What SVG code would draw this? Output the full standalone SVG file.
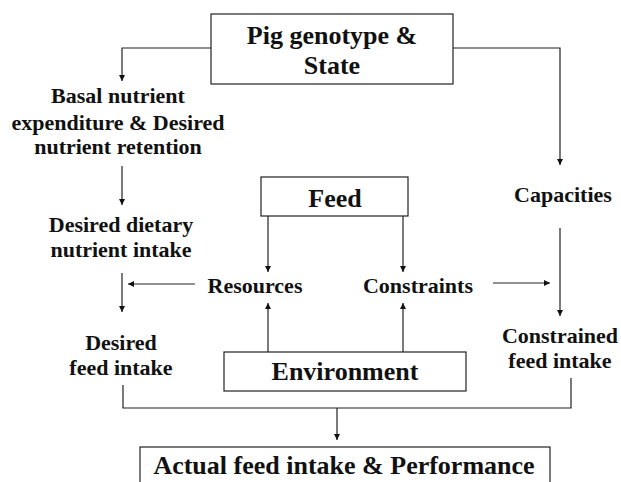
<svg xmlns="http://www.w3.org/2000/svg" width="621" height="482" viewBox="0 0 621 482">
<style>
text{font-family:'Liberation Serif','DejaVu Serif',serif;font-weight:bold;fill:#111;text-anchor:middle}
.l{font-size:22px}
.b{font-size:26px}
rect{fill:#fff;stroke:#222;stroke-width:1.2}
.c{fill:none;stroke:#222;stroke-width:1.2}
</style>
<defs>
<marker id="a" viewBox="0 0 10 10" refX="10" refY="5" markerWidth="6" markerHeight="6" markerUnits="userSpaceOnUse" orient="auto"><path d="M0,0L10,5L0,10z" fill="#111"/></marker>
</defs>
<rect width="621" height="482" style="stroke:none"/>
<g id="connectors">
<path class="c" d="M211,48H122V81" marker-end="url(#a)"/>
<path class="c" d="M453,48H560V165" marker-end="url(#a)"/>
<path class="c" d="M122,166V205" marker-end="url(#a)"/>
<path class="c" d="M122,273V312" marker-end="url(#a)"/>
<path class="c" d="M195,284H128" marker-end="url(#a)"/>
<path class="c" d="M268,216V272" marker-end="url(#a)"/>
<path class="c" d="M403,216V272" marker-end="url(#a)"/>
<path class="c" d="M268,352V303" marker-end="url(#a)"/>
<path class="c" d="M403,352V303" marker-end="url(#a)"/>
<path class="c" d="M493,283H550" marker-end="url(#a)"/>
<path class="c" d="M560,228V316" marker-end="url(#a)"/>
<path class="c" d="M123,385V408H571V378"/>
<path class="c" d="M337,408V440" marker-end="url(#a)"/>
</g>
<g font-family="Liberation Serif, serif">
<g id="pig">
<rect x="211" y="14" width="242" height="70"/>
<text class="b" x="332" y="44">Pig genotype &amp;</text>
<text class="b" x="332" y="74">State</text>
</g>
<g id="basal">
<text class="l" x="118" y="103">Basal nutrient</text>
<text class="l" x="118" y="130">expenditure &amp; Desired</text>
<text class="l" x="118" y="154">nutrient retention</text>
</g>
<g id="dietary">
<text class="l" x="121" y="232">Desired dietary</text>
<text class="l" x="121" y="257">nutrient intake</text>
</g>
<g id="desired">
<text class="l" x="121" y="350">Desired</text>
<text class="l" x="121" y="375">feed intake</text>
</g>
<g id="feed">
<rect x="261" y="177" width="147" height="39"/>
<text class="b" x="335" y="207">Feed</text>
</g>
<g id="resources">
<text class="l" x="255" y="293">Resources</text>
</g>
<g id="constraints">
<text class="l" x="418" y="293">Constraints</text>
</g>
<g id="capacities">
<text class="l" x="563" y="202">Capacities</text>
</g>
<g id="constrained">
<text class="l" x="560" y="343">Constrained</text>
<text class="l" x="560" y="368">feed intake</text>
</g>
<g id="environment">
<rect x="224" y="352" width="242" height="39"/>
<text class="b" x="345" y="380">Environment</text>
</g>
<g id="actual">
<rect x="140" y="447" width="410" height="40"/>
<text class="b" x="344" y="474">Actual feed intake &amp; Performance</text>
</g>
</g>
</svg>
